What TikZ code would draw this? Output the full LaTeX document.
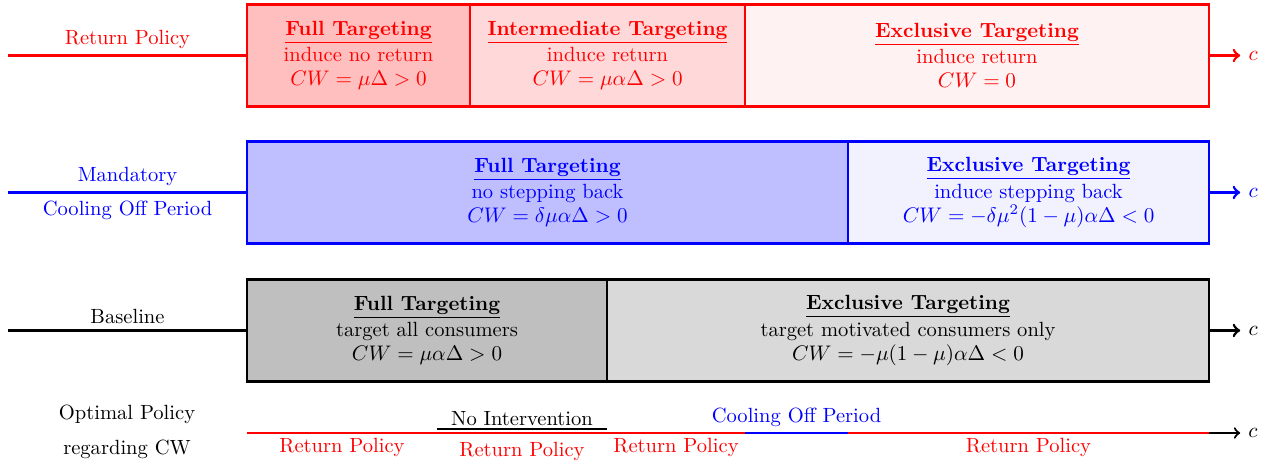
\documentclass[tikz,border=0pt]{standalone}
\usetikzlibrary{positioning,calc}

\tikzset{
  cell/.style={draw, line width=1.3pt, inner sep=0pt, outer sep=0pt, align=center,
    minimum height=1.69cm, anchor=west},
  axis/.style={line width=1.3pt},
}
\newcommand{\heading}[1]{\underline{\textbf{#1}}}

\begin{document}
\begin{tikzpicture}[font=\fontsize{9.75pt}{11.5pt}\selectfont]
  \useasboundingbox (0,0) rectangle (21.267,7.75);

  % return policy
  \node[cell, red, fill=red!25, minimum width=3.717cm] (ret1) at (4.117,6.825)
    {\heading{Full Targeting}\\[1pt] induce no return\\ $CW=\mu\Delta>0$};
  \node[cell, red, fill=red!15, minimum width=4.583cm, right=0pt of ret1] (ret2)
    {\heading{Intermediate Targeting}\\[1pt] induce return\\ $CW=\mu\alpha\Delta>0$};
  \node[cell, red, fill=red!5, minimum width=7.733cm, right=0pt of ret2] (ret3)
    {\heading{Exclusive Targeting}\\[1pt] induce return\\ $CW=0$};
  \coordinate (retin) at (0.133,6.825);
  \coordinate (retout) at (20.67,6.825);
  \draw[axis, red] (retin) -- (ret1.west) node[midway, above=-1pt] {Return Policy};
  \draw[axis, red, ->] (ret3.east) -- (retout) node[right] {$c$};

  % mandatory cooling off period
  \node[cell, blue, fill=blue!25, minimum width=10.017cm] (cool1) at (4.117,4.542)
    {\heading{Full Targeting}\\[1pt] no stepping back\\ $CW=\delta\mu\alpha\Delta>0$};
  \node[cell, blue, fill=blue!5, minimum width=6.017cm, right=0pt of cool1] (cool2)
    {\heading{Exclusive Targeting}\\[1pt] induce stepping back\\ $CW=-\delta\mu^2(1-\mu)\alpha\Delta<0$};
  \coordinate (coolin) at (0.133,4.542);
  \coordinate (coolout) at (20.67,4.542);
  \draw[axis, blue] (coolin) -- (cool1.west)
    node[midway, above=-1pt] {Mandatory}
    node[midway, below=0pt] {Cooling Off Period};
  \draw[axis, blue, ->] (cool2.east) -- (coolout) node[right] {$c$};

  % baseline
  \node[cell, fill=black!25, minimum width=6.0cm] (base1) at (4.117,2.242)
    {\heading{Full Targeting}\\[1pt] target all consumers\\ $CW=\mu\alpha\Delta>0$};
  \node[cell, fill=black!15, minimum width=10.033cm, right=0pt of base1] (base2)
    {\heading{Exclusive Targeting}\\[1pt] target motivated consumers only\\ $CW=-\mu(1-\mu)\alpha\Delta<0$};
  \coordinate (basein) at (0.133,2.242);
  \coordinate (baseout) at (20.67,2.242);
  \draw[axis] (basein) -- (base1.west) node[midway, above=-1pt] {Baseline};
  \draw[axis, ->] (base2.east) -- (baseout) node[right] {$c$};

  % optimal policy regarding CW
  \node[align=center] (opt) at (2.117,0.55) {Optimal Policy\\[5pt] regarding CW};
  \coordinate (o0) at (4.117,0.533);
  \coordinate (o1) at (7.283,0.533);
  \coordinate (o2) at (10.117,0.533);
  \coordinate (o3) at (12.417,0.533);
  \coordinate (o4) at (14.133,0.533);
  \coordinate (o5) at (20.15,0.533);
  \coordinate (oend) at (20.67,0.533);
  \draw[line width=1pt, red] (o0) -- (o5);
  \draw[line width=1pt, ->] (o5) -- (oend) node[right] {$c$};
  \draw[line width=0.9pt] ([yshift=1.8pt]o1) -- ([yshift=1.8pt]o2)
    node[midway, above=-2pt] {No Intervention};
  \draw[axis, blue] (o3) -- (o4)
    node[midway, above=-1pt] {Cooling Off Period};
  \node[red, below=-1pt] (rp1) at ($(o0)!0.5!(o1)$) {Return Policy};
  \node[red, below=1pt] (rp2) at ($(o1)!0.5!(o2)$) {Return Policy};
  \node[red, below=-1pt] (rp3) at ($(o2)!0.5!(o3)$) {Return Policy};
  \node[red, below=-1pt] (rp4) at ($(o4)!0.5!(o5)$) {Return Policy};
\end{tikzpicture}
\end{document}
